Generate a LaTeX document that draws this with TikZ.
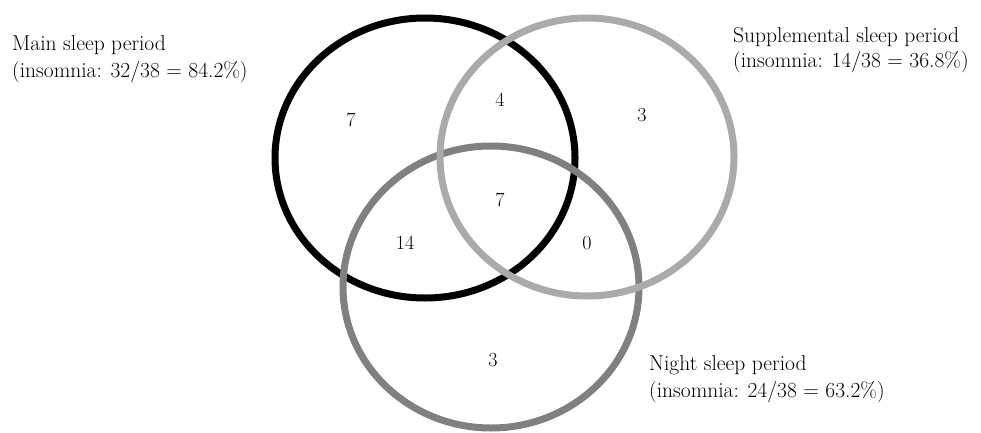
\documentclass[tikz,border=0pt]{standalone}
\usepackage{fontspec}
\definecolor{darkring}{RGB}{128,128,128}
\definecolor{lightring}{RGB}{170,170,170}
\tikzset{
  ring/.style={line width=7pt},
  lbl/.style={anchor=base west, inner sep=0pt, font=\fontsize{21.5}{26}\selectfont},
  num/.style={inner sep=0pt, font=\fontsize{20}{24}\selectfont}
}
\begin{document}
\begin{tikzpicture}[x=1pt,y=-1pt]
\useasboundingbox (0,0) rectangle (981,433);
\draw[ring, black] (425,158) ellipse [x radius=150, y radius=140];
\draw[ring, darkring] (491,287) ellipse [x radius=148, y radius=141];
\draw[ring, lightring] (587,157) ellipse [x radius=147, y radius=139];
\node[lbl] (m1) at (12,51) {Main sleep period};
\node[lbl] (m2) at (12,78) {(insomnia: 32/38 = 84.2\%)};
\node[lbl] (s1) at (733,43) {Supplemental sleep period};
\node[lbl] (s2) at (733,68) {(insomnia: 14/38 = 36.8\%)};
\node[lbl] (n1) at (649,370) {Night sleep period};
\node[lbl] (n2) at (649,397) {(insomnia: 24/38 = 63.2\%)};
\node[num] (a) at (351,120) {7};
\node[num] (b) at (500,100) {4};
\node[num] (c) at (642,115) {3};
\node[num] (d) at (500,200) {7};
\node[num] (e) at (405,243) {14};
\node[num] (f) at (587,243) {0};
\node[num] (g) at (493,360) {3};
\end{tikzpicture}
\end{document}
